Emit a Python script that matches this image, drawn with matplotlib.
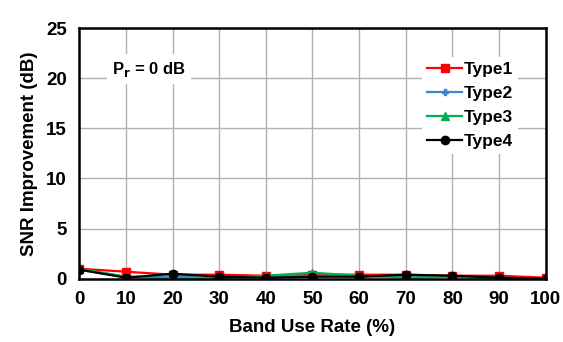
import matplotlib
matplotlib.use("Agg")
import matplotlib.pyplot as plt

plt.rcParams["font.family"] = ["Liberation Sans", "DejaVu Sans"]

band_use = [0, 10, 20, 30, 40, 50, 60, 70, 80, 90, 100]
type1 = [1.0, 0.7, 0.4, 0.4, 0.3, 0.4, 0.4, 0.4, 0.3, 0.3, 0.1]
type2 = [0.9, 0.2, 0.2, 0.1, 0.2, 0.3, 0.2, 0.2, 0.2, 0.1, 0.0]
type3 = [1.0, 0.2, 0.0, 0.0, 0.3, 0.6, 0.3, 0.1, 0.2, 0.0, 0.0]
type4 = [0.9, 0.1, 0.5, 0.2, 0.1, 0.2, 0.2, 0.4, 0.3, 0.1, 0.0]

fig = plt.figure(figsize=(5.63, 3.42), dpi=100)
ax = fig.add_axes([0.141, 0.185, 0.828, 0.733])

ax.plot(band_use, type1, color="#ff0000", marker="s", markersize=6, lw=1.6, label="Type1")
ax.plot(band_use, type2, color="#3a86d0", marker="P", markersize=4, lw=1.6, label="Type2")
ax.plot(band_use, type3, color="#00b050", marker="^", markersize=6, lw=1.6, label="Type3")
ax.plot(band_use, type4, color="#000000", marker="o", markersize=6, lw=1.6, label="Type4")

ax.set_xlim(0, 100)
ax.set_ylim(0, 25)
ax.set_xticks(band_use)
ax.set_yticks([0, 5, 10, 15, 20, 25])
ax.grid(True, color="#b0b0b0", lw=1)
ax.set_axisbelow(True)
for s in ax.spines.values():
    s.set_linewidth(1.8)
    s.set_color("black")
ax.tick_params(length=0, pad=9, labelsize=13.5)
for lbl in ax.get_xticklabels() + ax.get_yticklabels():
    lbl.set_fontweight("bold")

ax.set_xlabel("Band Use Rate (%)", fontsize=13.5, fontweight="bold", labelpad=8)
ax.set_ylabel("SNR Improvement (dB)", fontsize=13.5, fontweight="bold", labelpad=6)

ax.text(0.07, 0.835, r"P$_\mathbf{r}$ = 0 dB", transform=ax.transAxes, fontsize=12,
        fontweight="bold", va="center",
        bbox=dict(facecolor="white", edgecolor="none", pad=4))

leg = ax.legend(loc="upper right", bbox_to_anchor=(0.96, 0.92), frameon=True,
                fancybox=False, edgecolor="none", framealpha=1,
                handlelength=2.0, handletextpad=0.1, labelspacing=0.5,
                borderpad=0.3, prop={"weight": "bold", "size": 12.5})

fig.savefig("out.png", dpi=100)
